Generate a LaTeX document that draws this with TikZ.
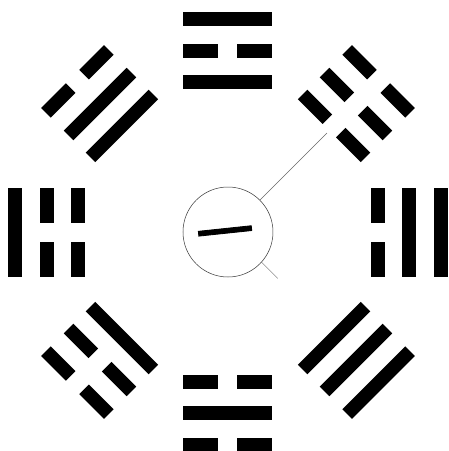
\documentclass[tikz,border=0pt]{standalone}
\usepackage{fontspec}
\newfontfamily\cjk[FakeBold=1.5]{Noto Sans CJK SC}
\usepackage{tikz}
\usetikzlibrary{calc}
\tikzset{
  yao/.style={fill=black, inner sep=0pt, outer sep=0pt, minimum width=13.5pt},
  yang/.style={yao, minimum height=89pt},
  yin/.style={yao, minimum height=35pt},
  taiji/.style={draw=black!80, circle, line width=0.5pt, inner sep=0pt, outer sep=0pt, minimum size=90pt},
  guide/.style={line width=0.4pt, black!60}
}
% one line of a trigram: name, radius, 1 = solid, 0 = broken
\newcommand{\yaoline}[3]{%
  \ifnum#3=1
    \node[yang] (#1) at (#2,0) {};
  \else
    \node[yin] (#1a) at (#2,27) {};
    \node[yin] (#1b) at (#2,-27) {};
  \fi}
% trigram: name, angle, inner, middle, outer
\newcommand{\gua}[5]{%
  \begin{scope}[rotate=#2, transform shape]
    \yaoline{#1-in}{150}{#3}
    \yaoline{#1-mid}{181}{#4}
    \yaoline{#1-out}{213}{#5}
  \end{scope}}

\begin{document}
\begin{tikzpicture}[x=1pt, y=1pt]
\useasboundingbox (-228,-219) rectangle (221,232);
\node[taiji] (taiji) at (0,0) {};
\node[font=\cjk\fontsize{58}{58}\selectfont, rotate=6, inner sep=0pt] (yi) at (-2,-9) {一};
\gua{dui}{0}{0}{1}{1}
\gua{kun}{45}{0}{0}{0}
\gua{li}{90}{1}{0}{1}
\gua{xun}{135}{1}{1}{0}
\gua{zhen}{180}{0}{0}{1}
\gua{gen}{225}{1}{0}{0}
\gua{kan}{270}{0}{1}{0}
\gua{qian}{315}{1}{1}{1}
\coordinate (ne-end) at (45:140);
\coordinate (se-end) at (-43:68);
\draw[guide] (taiji.45) -- (ne-end);
\draw[guide] (taiji.-42) -- (se-end);
\end{tikzpicture}
\end{document}
